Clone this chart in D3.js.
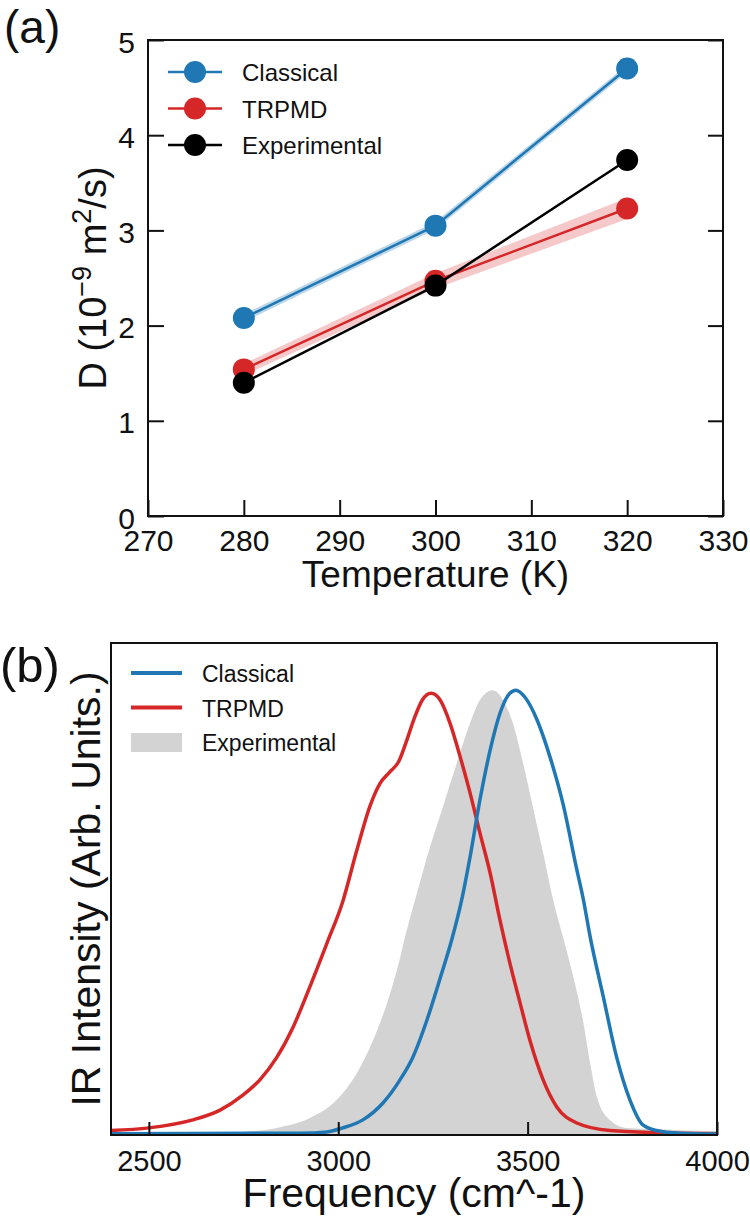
<!DOCTYPE html>
<html>
<head>
<meta charset="utf-8">
<title>Diffusion and IR spectra</title>
<script src="https://d3js.org/d3.v7.min.js"></script>
<style>
  body { margin: 0; background: #fff; }
  svg { font-family: "Liberation Sans", Arial, sans-serif; }
</style>
</head>
<body>
<div id="chart"></div>
<script>
// ---- panel (a) data ----
const temps = [280, 300, 320]
const classicalD = [2.08, 3.05, 4.70]
const classicalErr = [0.04, 0.04, 0.04]
const trpmdD = [1.54, 2.47, 3.23]
const trpmdErr = [0.06, 0.08, 0.11]
const expD = [1.40, 2.42, 3.74]
const tempTicks = [270, 280, 290, 300, 310, 320, 330]
const dTicks = [0, 1, 2, 3, 4, 5]

// ---- panel (b) data ----
const classicalFreq = [2400, 2900, 2970, 3012, 3065, 3118, 3163, 3197, 3234, 3270, 3300, 3325, 3348, 3374, 3401, 3427, 3453, 3469, 3493, 3525, 3559, 3593, 3629, 3647, 3665, 3700, 3735, 3770, 3805, 3841, 3900, 4000]
const classicalIR = [0.003, 0.004, 0.007, 0.016, 0.034, 0.072, 0.124, 0.175, 0.258, 0.355, 0.440, 0.525, 0.625, 0.753, 0.865, 0.948, 0.993, 1.0, 0.984, 0.933, 0.850, 0.746, 0.600, 0.530, 0.446, 0.310, 0.175, 0.079, 0.022, 0.010, 0.004, 0.002]
const trpmdFreq = [2400, 2500, 2616, 2688, 2749, 2793, 2838, 2881, 2925, 2970, 3012, 3049, 3084, 3110, 3135, 3160, 3180, 3200, 3222, 3245, 3269, 3295, 3322, 3348, 3374, 3401, 3427, 3453, 3480, 3506, 3541, 3577, 3630, 3717, 3850, 4000]
const trpmdIR = [0.010, 0.016, 0.034, 0.056, 0.090, 0.124, 0.175, 0.243, 0.333, 0.431, 0.525, 0.640, 0.740, 0.790, 0.815, 0.840, 0.885, 0.935, 0.978, 0.993, 0.978, 0.926, 0.850, 0.769, 0.679, 0.589, 0.483, 0.387, 0.297, 0.213, 0.124, 0.063, 0.027, 0.010, 0.005, 0.003]
const expFreq = [2400, 2650, 2749, 2838, 2925, 2996, 3049, 3092, 3129, 3155, 3181, 3205, 3242, 3276, 3313, 3348, 3374, 3408, 3435, 3461, 3488, 3514, 3541, 3567, 3595, 3625, 3646, 3665, 3683, 3717, 3762, 3849, 3982, 4000]
const expIR = [0.002, 0.003, 0.007, 0.016, 0.038, 0.079, 0.139, 0.213, 0.297, 0.371, 0.461, 0.535, 0.647, 0.737, 0.836, 0.926, 0.978, 1.0, 0.978, 0.926, 0.836, 0.737, 0.634, 0.530, 0.440, 0.340, 0.258, 0.162, 0.085, 0.034, 0.016, 0.013, 0.009, 0.009]
const freqTicks = [2500, 3000, 3500, 4000]

const blue = "#1f77b4"
const red = "#d62728"
const gray = "#d3d3d3"
const ink = "#111"

const w = 750
const h = 1220

const svg = d3.select("#chart")
    .append("svg")
    .attr("width", w)
    .attr("height", h)

// ================= Panel (a) =================
const a = { left: 148, right: 723, top: 40, bottom: 516 }

const xA = d3.scaleLinear().domain([270, 330]).range([a.left, a.right])
const yA = d3.scaleLinear().domain([0, 5]).range([a.bottom, a.top])

const gA = svg.append("g")

// bottom axis (ticks inside)
gA.append("g")
    .attr("transform", `translate(0,${a.bottom})`)
    .call(d3.axisBottom(xA).tickValues(tempTicks).tickFormat(d3.format("d")).tickSizeInner(-16).tickSizeOuter(0).tickPadding(14))
    .call(g => g.select(".domain").remove())
    .call(g => g.selectAll("line").attr("stroke", ink).attr("stroke-width", 2))
    .call(g => g.selectAll("text").attr("font-size", 30).attr("fill", ink).attr("font-family", null))

// left axis
gA.append("g")
    .attr("transform", `translate(${a.left},0)`)
    .call(d3.axisLeft(yA).tickValues(dTicks).tickFormat(d3.format("d")).tickSizeInner(-16).tickSizeOuter(0).tickPadding(13))
    .call(g => g.select(".domain").remove())
    .call(g => g.selectAll("line").attr("stroke", ink).attr("stroke-width", 2))
    .call(g => g.selectAll("text").attr("font-size", 30).attr("fill", ink).attr("font-family", null).attr("dy", "0.4em"))

// right axis (ticks only)
gA.append("g")
    .attr("transform", `translate(${a.right},0)`)
    .call(d3.axisRight(yA).tickValues(dTicks).tickSizeInner(-15).tickSizeOuter(0).tickFormat(""))
    .call(g => g.select(".domain").remove())
    .call(g => g.selectAll("line").attr("stroke", ink).attr("stroke-width", 2))

// frame
gA.append("rect")
    .attr("x", a.left).attr("y", a.top)
    .attr("width", a.right - a.left).attr("height", a.bottom - a.top)
    .attr("fill", "none").attr("stroke", ink).attr("stroke-width", 2)

// error bands
const bandA = (vals, errs) => d3.area()
    .x((d, i) => xA(temps[i]))
    .y0((d, i) => yA(vals[i] - errs[i]))
    .y1((d, i) => yA(vals[i] + errs[i]))(temps)

gA.append("path").attr("d", bandA(classicalD, classicalErr)).attr("fill", blue).attr("opacity", 0.3)
gA.append("path").attr("d", bandA(trpmdD, trpmdErr)).attr("fill", red).attr("opacity", 0.25)

const seriesA = [
    { name: "Classical", vals: classicalD, color: blue },
    { name: "TRPMD", vals: trpmdD, color: red },
    { name: "Experimental", vals: expD, color: "#000" }
]

const lineA = vals => d3.line()
    .x((d, i) => xA(temps[i]))
    .y((d, i) => yA(vals[i]))(temps)

seriesA.forEach(s => {
    gA.append("path")
        .attr("d", lineA(s.vals))
        .attr("fill", "none")
        .attr("stroke", s.color)
        .attr("stroke-width", 2.5)
    gA.selectAll(null)
        .data(s.vals)
        .enter()
        .append("circle")
        .attr("cx", (d, i) => xA(temps[i]))
        .attr("cy", d => yA(d))
        .attr("r", 11)
        .attr("fill", s.color)
})

// legend (a)
const legA = gA.append("g")
seriesA.forEach((s, i) => {
    const ly = 72 + i * 36.5
    legA.append("line")
        .attr("x1", 168).attr("x2", 222).attr("y1", ly).attr("y2", ly)
        .attr("stroke", s.color).attr("stroke-width", 2.5)
    legA.append("circle").attr("cx", 195).attr("cy", ly).attr("r", 11).attr("fill", s.color)
    legA.append("text")
        .attr("x", 242).attr("y", ly + 9)
        .attr("font-size", 24).attr("fill", ink)
        .text(s.name)
})

// axis labels (a)
gA.append("text")
    .attr("x", (a.left + a.right) / 2).attr("y", 587)
    .attr("text-anchor", "middle").attr("font-size", 37).attr("fill", ink)
    .text("Temperature (K)")

const yLabA = gA.append("text")
    .attr("transform", `translate(106,${(a.top + a.bottom) / 2}) rotate(-90)`)
    .attr("text-anchor", "middle").attr("font-size", 38).attr("fill", ink)
yLabA.append("tspan").text("D (10")
yLabA.append("tspan").attr("font-size", 27).attr("dy", -15).text("\u22129")
yLabA.append("tspan").attr("dy", 15).text(" m")
yLabA.append("tspan").attr("font-size", 27).attr("dy", -15).text("2")
yLabA.append("tspan").attr("dy", 15).text("/s)")

svg.append("text").attr("x", 4).attr("y", 43).attr("font-size", 46).attr("fill", ink).text("(a)")

// ================= Panel (b) =================
const b = { left: 111, right: 717, top: 643, bottom: 1135 }

const xB = d3.scaleLinear().domain([2400, 4000]).range([b.left, b.right])
const yB = d3.scaleLinear().domain([0, 1.106]).range([b.bottom, b.top])

const gB = svg.append("g")

const clip = svg.append("defs").append("clipPath").attr("id", "clipB")
clip.append("rect").attr("x", b.left).attr("y", b.top).attr("width", b.right - b.left).attr("height", b.bottom - b.top)

const plotB = gB.append("g").attr("clip-path", "url(#clipB)")

plotB.append("path")
    .attr("d", d3.area()
        .x((d, i) => xB(expFreq[i]))
        .y0(yB(0))
        .y1((d, i) => yB(expIR[i]))
        .curve(d3.curveMonotoneX)(expFreq))
    .attr("fill", gray)

const lineB = (fs, vs) => d3.line()
    .x((d, i) => xB(fs[i]))
    .y((d, i) => yB(vs[i]))
    .curve(d3.curveMonotoneX)(fs)

plotB.append("path").attr("d", lineB(trpmdFreq, trpmdIR))
    .attr("fill", "none").attr("stroke", red).attr("stroke-width", 3.5)
plotB.append("path").attr("d", lineB(classicalFreq, classicalIR))
    .attr("fill", "none").attr("stroke", blue).attr("stroke-width", 3.5)

gB.append("g")
    .attr("transform", `translate(0,${b.bottom})`)
    .call(d3.axisBottom(xB).tickValues(freqTicks).tickFormat(d3.format("d")).tickSizeInner(-13).tickSizeOuter(0).tickPadding(15))
    .call(g => g.select(".domain").remove())
    .call(g => g.selectAll("line").attr("stroke", ink).attr("stroke-width", 2))
    .call(g => g.selectAll("text").attr("font-size", 29).attr("fill", ink).attr("font-family", null))

gB.append("rect")
    .attr("x", b.left).attr("y", b.top)
    .attr("width", b.right - b.left).attr("height", b.bottom - b.top)
    .attr("fill", "none").attr("stroke", ink).attr("stroke-width", 2)

// legend (b)
const legB = gB.append("g")
const seriesB = [
    { name: "Classical", color: blue, kind: "line" },
    { name: "TRPMD", color: red, kind: "line" },
    { name: "Experimental", color: gray, kind: "patch" }
]
seriesB.forEach((s, i) => {
    const ly = 673 + i * 34.5
    if (s.kind === "line") {
        legB.append("line")
            .attr("x1", 131).attr("x2", 182).attr("y1", ly).attr("y2", ly)
            .attr("stroke", s.color).attr("stroke-width", 4)
    } else {
        legB.append("rect")
            .attr("x", 131).attr("y", ly - 9).attr("width", 51).attr("height", 19)
            .attr("fill", s.color)
    }
    legB.append("text")
        .attr("x", 202).attr("y", ly + 9)
        .attr("font-size", 23).attr("fill", ink)
        .text(s.name)
})

gB.append("text")
    .attr("x", (b.left + b.right) / 2).attr("y", 1207)
    .attr("text-anchor", "middle").attr("font-size", 41).attr("fill", ink)
    .text("Frequency (cm^-1)")

gB.append("text")
    .attr("transform", `translate(100,${(b.top + b.bottom) / 2}) rotate(-90)`)
    .attr("text-anchor", "middle").attr("font-size", 41).attr("fill", ink)
    .text("IR Intensity (Arb. Units.)")

svg.append("text").attr("x", 0).attr("y", 682).attr("font-size", 49).attr("fill", ink).text("(b)")
</script>
</body>
</html>
